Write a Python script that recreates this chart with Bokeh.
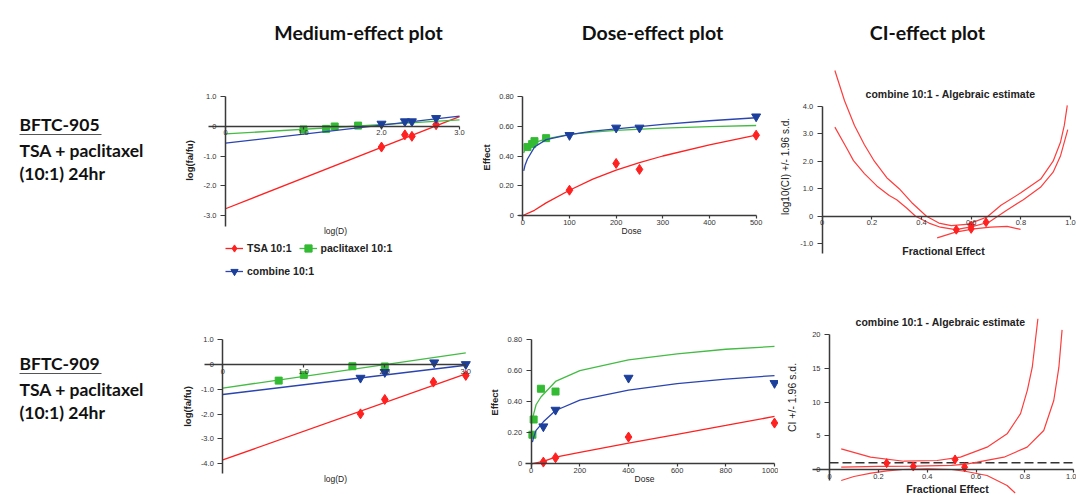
import math
from bokeh.plotting import figure
from bokeh.models import Range1d, FixedTicker, Label, Legend, LegendItem
from bokeh.layouts import column, row
from bokeh.embed import file_html
from bokeh.resources import INLINE

# ---------------- data: BFTC-905 ----------------
me905_tsa_logd = [2.00, 2.30, 2.39, 2.70]
me905_tsa_y = [-0.70, -0.29, -0.34, 0.05]
me905_pac_logd = [1.00, 1.29, 1.40, 1.70]
me905_pac_y = [-0.11, -0.09, -0.01, 0.02]
me905_comb_logd = [2.00, 2.30, 2.39, 2.70]
me905_comb_y = [0.08, 0.16, 0.16, 0.27]
me905_fit_x = [0.0, 3.0]
me905_tsa_fit = [-2.77, 0.32]
me905_pac_fit = [-0.26, 0.21]
me905_comb_fit = [-0.57, 0.34]

de905_tsa_dose = [100, 200, 250, 500]
de905_tsa_eff = [0.17, 0.35, 0.31, 0.54]
de905_pac_dose = [10, 20, 25, 50]
de905_pac_eff = [0.46, 0.48, 0.50, 0.52]
de905_comb_dose = [100, 200, 250, 500]
de905_comb_eff = [0.54, 0.59, 0.59, 0.665]
de905_tsa_curve_dose = [0, 25, 50, 100, 150, 200, 250, 300, 400, 500]
de905_tsa_curve_eff = [0, 0.035, 0.085, 0.17, 0.245, 0.305, 0.355, 0.40, 0.475, 0.54]
de905_pac_curve_dose = [2, 5, 10, 25, 50, 100, 150, 200, 300, 400, 500]
de905_pac_curve_eff = [0.42, 0.45, 0.47, 0.49, 0.515, 0.545, 0.56, 0.572, 0.588, 0.598, 0.605]
de905_comb_curve_dose = [2, 5, 10, 25, 50, 100, 150, 200, 300, 400, 500]
de905_comb_curve_eff = [0.30, 0.34, 0.38, 0.46, 0.51, 0.543, 0.567, 0.583, 0.613, 0.637, 0.657]

ci905_fa = [0.54, 0.60, 0.60, 0.66]
ci905_val = [-0.49, -0.34, -0.46, -0.22]
ci905_up_fa = [0.051, 0.09, 0.13, 0.17, 0.21, 0.26, 0.31, 0.36, 0.42, 0.47, 0.52,
               0.58, 0.62, 0.664, 0.72, 0.80, 0.88, 0.93, 0.96, 0.975, 0.987]
ci905_up_val = [5.30, 4.2, 3.3, 2.6, 2.0, 1.4, 1.0, 0.5, 0.0, -0.25, -0.34,
                -0.30, -0.18, -0.03, 0.4, 0.85, 1.35, 2.0, 2.7, 3.3, 4.03]
ci905_mid_fa = [0.051, 0.10, 0.126, 0.17, 0.22, 0.27, 0.30, 0.34, 0.376, 0.43,
                0.476, 0.537, 0.60, 0.671, 0.74, 0.81, 0.879, 0.93, 0.96, 0.989]
ci905_mid_val = [3.24, 2.45, 2.02, 1.55, 1.1, 0.75, 0.6, 0.3, 0.0, -0.25,
                 -0.40, -0.49, -0.39, -0.22, 0.2, 0.6, 1.05, 1.6, 2.2, 3.15]
ci905_low_fa = [0.463, 0.537, 0.611, 0.678, 0.745, 0.799]
ci905_low_val = [-0.79, -0.58, -0.46, -0.40, -0.37, -0.48]

# ---------------- data: BFTC-909 ----------------
me909_tsa_logd = [1.70, 2.00, 2.60, 3.00]
me909_tsa_y = [-1.99, -1.41, -0.71, -0.44]
me909_pac_logd = [0.69, 1.00, 1.60, 2.00]
me909_pac_y = [-0.65, -0.42, -0.07, -0.08]
me909_comb_logd = [1.70, 2.00, 2.61, 3.00]
me909_comb_y = [-0.54, -0.31, 0.08, 0.01]
me909_fit_x = [0.0, 3.0]
me909_tsa_fit = [-3.85, -0.38]
me909_pac_fit = [-0.95, 0.47]
me909_comb_fit = [-1.21, -0.03]

de909_tsa_dose = [50, 100, 400, 1000]
de909_tsa_eff = [0.011, 0.039, 0.172, 0.262]
de909_pac_dose = [5, 10, 40, 100]
de909_pac_eff = [0.187, 0.285, 0.483, 0.465]
de909_comb_dose = [50, 100, 400, 1000]
de909_comb_eff = [0.24, 0.347, 0.553, 0.519]
de909_tsa_curve_dose = [0, 50, 100, 200, 400, 600, 800, 1000]
de909_tsa_curve_eff = [0, 0.015, 0.043, 0.074, 0.133, 0.19, 0.247, 0.305]
de909_pac_curve_dose = [5, 10, 20, 40, 100, 200, 400, 600, 800, 1000]
de909_pac_curve_eff = [0.27, 0.32, 0.38, 0.43, 0.53, 0.60, 0.669, 0.708, 0.737, 0.755]
de909_comb_curve_dose = [5, 10, 20, 50, 100, 200, 400, 600, 800, 1000]
de909_comb_curve_eff = [0.14, 0.17, 0.215, 0.27, 0.343, 0.41, 0.474, 0.516, 0.545, 0.568]

ci909_fa = [0.234, 0.343, 0.514, 0.553]
ci909_val = [0.94, 0.45, 1.49, 0.34]
ci909_up_fa = [0.048, 0.168, 0.304, 0.44, 0.536, 0.645, 0.727, 0.782, 0.81, 0.83, 0.853]
ci909_up_val = [3.07, 1.83, 1.23, 1.34, 1.83, 3.32, 5.3, 8.3, 11.8, 15.2, 22.4]
ci909_mid_fa = [0.048, 0.2, 0.35, 0.5, 0.56, 0.605, 0.714, 0.809, 0.877, 0.918, 0.939, 0.952]
ci909_mid_val = [0.34, 0.45, 0.5, 0.6, 0.8, 1.09, 1.83, 3.32, 5.8, 10.25, 15.2, 20.75]
ci909_low_fa = [0.048, 0.1, 0.17, 0.236, 0.3, 0.4, 0.5, 0.56, 0.645, 0.727, 0.76]
ci909_low_val = [-1.63, -1.04, -0.55, -0.2, 0.0, 0.1, 0.0, -0.3, -0.89, -2.38, -3.5]
ci909_ref_fa = [0.0, 1.0]
ci909_ref_val = [1.0, 1.0]

# ---------------- tick labels ----------------
me905_yticks = [-3, -2, -1, 0, 1]
me905_ylabels = ["-3.0", "-2.0", "-1.0", "0", "1.0"]
me909_yticks = [-4, -3, -2, -1, 0, 1]
me909_ylabels = ["-4.0", "-3.0", "-2.0", "-1.0", "0", "1.0"]
me_xticks = [0, 1, 2, 3]
me_xlabels = ["0", "1.0", "2.0", "3.0"]
de_yticks = [0, 0.2, 0.4, 0.6, 0.8]
de_ylabels = ["0", "0.20", "0.40", "0.60", "0.80"]
de905_xticks = [0, 100, 200, 300, 400, 500]
de905_xlabels = ["0", "100", "200", "300", "400", "500"]
de909_xticks = [0, 200, 400, 600, 800, 1000]
de909_xlabels = ["0", "200", "400", "600", "800", "1000"]
ci905_yticks = [-1, 0, 1, 2, 3, 4]
ci905_ylabels = ["-1.0", "0", "1.0", "2.0", "3.0", "4.0"]
ci909_yticks = [0, 5, 10, 15, 20]
ci909_ylabels = ["0", "5", "10", "15", "20"]
ci_xticks = [0, 0.2, 0.4, 0.6, 0.8, 1.0]
ci_xlabels = ["0", "0.2", "0.4", "0.6", "0.8", "1.0"]

# ---------------- styles ----------------
FONT = "Liberation Sans"
HEAD_FONT = "Lato"
RED = "#ff2020"
CI_RED = "#ff3c3c"
GREEN = "#33bb33"
GREEN_LINE = "#44bb44"
BLUE = "#1c3f9c"
BLUE_LINE = "#2a44b0"
AXIS = "#3a3a3a"
TXT = "#333333"

# page layout (pixels): columns and rows
COL_X = [0, 176, 480, 778, 1076]
ROW_Y = [0, 305, 496]


class Panel:
    """A figure whose frame fills its box; cx/cy = page pixel of value 0, sx/sy = pixels per unit."""

    def __init__(self, col, rw, cx, sx, cy, sy):
        self.fx0, self.fx1 = COL_X[col], COL_X[col + 1]
        self.fy0, self.fy1 = ROW_Y[rw], ROW_Y[rw + 1]
        self.cx, self.sx, self.cy, self.sy = cx, sx, cy, sy
        self.p = figure(width=self.fx1 - self.fx0, height=self.fy1 - self.fy0,
                        x_range=Range1d(self.dx(self.fx0), self.dx(self.fx1)),
                        y_range=Range1d(self.dy(self.fy1), self.dy(self.fy0)),
                        output_backend="svg", toolbar_location=None, title=None,
                        min_border_left=0, min_border_right=0,
                        min_border_top=0, min_border_bottom=0)
        p = self.p
        p.outline_line_color = None
        p.background_fill_color = "white"
        p.border_fill_color = "white"
        p.grid.visible = False
        p.xaxis.fixed_location = 0
        p.yaxis.fixed_location = 0

    def dx(self, px):
        return (px - self.cx) / self.sx

    def dy(self, py):
        return (self.cy - py) / self.sy

    def text(self, px, py, txt, size, style="normal", font=FONT, align="center",
             angle=0.0, color="#222222"):
        self.p.add_layout(Label(x=self.dx(px), y=self.dy(py), text=txt, angle=angle,
                                text_font=font, text_font_size=size, text_font_style=style,
                                text_align=align, text_baseline="middle", text_color=color))

    def axes(self, xticks, xlabels, xbounds, yticks, ylabels, ybounds):
        for ax, ticks, labels, bounds, tick_out, standoff in (
                (self.p.xaxis[0], xticks, xlabels, xbounds, 3, 1),
                (self.p.yaxis[0], yticks, ylabels, ybounds, 5, 4)):
            ax.ticker = FixedTicker(ticks=ticks, minor_ticks=[])
            ax.major_label_overrides = {t: l for t, l in zip(ticks, labels)}
            ax.bounds = bounds
            ax.axis_line_color = AXIS
            ax.axis_line_width = 1.5
            ax.major_tick_line_color = AXIS
            ax.major_tick_line_width = 1.2
            ax.major_tick_out = tick_out
            ax.major_tick_in = 0
            ax.minor_tick_line_color = None
            ax.major_label_standoff = standoff
            ax.major_label_text_font = FONT
            ax.major_label_text_font_size = "7.5px"
            ax.major_label_text_color = TXT

    def series(self, xs, ys, cxs, cys, color, line_color, marker, size):
        r_line = self.p.line(cxs, cys, line_color=line_color, line_width=1.3)
        r_pts = self.p.scatter(xs, ys, marker=marker, size=size, fill_color=color, line_color=color)
        return r_line, r_pts


def side_label(rw, name, mid):
    y0, y1 = ROW_Y[rw], ROW_Y[rw + 1]
    f = figure(width=COL_X[1] - COL_X[0], height=y1 - y0, x_range=Range1d(COL_X[0], COL_X[1]),
               y_range=Range1d(y1, y0), x_axis_type=None, y_axis_type=None,
               output_backend="svg", toolbar_location=None, title=None,
               min_border_left=0, min_border_right=0, min_border_top=0, min_border_bottom=0)
    f.outline_line_color = None
    for txt, ym in ((name, mid), ("TSA + paclitaxel", mid + 25.5), ("(10:1) 24hr", mid + 49)):
        f.add_layout(Label(x=19, y=ym, text=txt, text_align="left", text_baseline="middle",
                           text_font=HEAD_FONT, text_font_size="17.5px", text_font_style="bold",
                           text_color="#111111"))
    f.segment(x0=[19], y0=[mid + 10], x1=[101], y1=[mid + 10], line_color="#555555", line_width=1)
    return f


lab1 = side_label(0, "BFTC-905", 124)
lab2 = side_label(1, "BFTC-909", 363)

# ================= BFTC-905 =================
P1 = Panel(1, 0, 225.0, 78.0, 125.7, 29.8)
P1.axes(me_xticks, me_xlabels, (-0.22, 3.0), me905_yticks, me905_ylabels, (-3.36, 1.0))
a1 = P1.series(me905_tsa_logd, me905_tsa_y, me905_fit_x, me905_tsa_fit, RED, RED, "diamond", 10)
b1 = P1.series(me905_pac_logd, me905_pac_y, me905_fit_x, me905_pac_fit, GREEN, GREEN_LINE, "square", 7)
c1 = P1.series(me905_comb_logd, me905_comb_y, me905_fit_x, me905_comb_fit, BLUE, BLUE_LINE, "inverted_triangle", 9)
P1.text(358, 32, "Medium-effect plot", "19.5px", "bold", HEAD_FONT, color="#111111")
P1.text(335, 230, "log(D)", "8.5px")
P1.text(189, 160, "log(fa/fu)", "9.5px", "bold", angle=math.pi / 2)
leg_common = dict(orientation="horizontal", padding=0, margin=0, spacing=7, label_standoff=4,
                  glyph_width=18, glyph_height=20, label_height=20,
                  border_line_color=None, background_fill_color=None,
                  label_text_font=FONT, label_text_font_size="10.5px",
                  label_text_font_style="bold", label_text_color="#222222")
leg_a = Legend(items=[LegendItem(label="TSA 10:1", renderers=list(a1)),
                      LegendItem(label="paclitaxel 10:1", renderers=list(b1))],
               location=(225 - P1.fx0, P1.fy1 - 258), **leg_common)
leg_b = Legend(items=[LegendItem(label="combine 10:1", renderers=list(c1))],
               location=(225 - P1.fx0, P1.fy1 - 281), **leg_common)
P1.p.add_layout(leg_a)
P1.p.add_layout(leg_b)

D1 = Panel(2, 0, 522.3, 0.4667, 215.0, 148.75)
D1.axes(de905_xticks, de905_xlabels, (-8.5, 500), de_yticks, de_ylabels, (-0.034, 0.8))
D1.series(de905_tsa_dose, de905_tsa_eff, de905_tsa_curve_dose, de905_tsa_curve_eff, RED, RED, "diamond", 10)
D1.series(de905_pac_dose, de905_pac_eff, de905_pac_curve_dose, de905_pac_curve_eff, GREEN, GREEN_LINE, "square", 7)
D1.series(de905_comb_dose, de905_comb_eff, de905_comb_curve_dose, de905_comb_curve_eff, BLUE, BLUE_LINE, "inverted_triangle", 9)
D1.text(652, 32, "Dose-effect plot", "19.5px", "bold", HEAD_FONT, color="#111111")
D1.text(631, 230, "Dose", "8.5px")
D1.text(486, 157, "Effect", "9.5px", "bold", angle=math.pi / 2)

K1 = Panel(3, 0, 821.7, 248.3, 215.7, 27.5)
K1.axes(ci_xticks, ci_xlabels, (0, 1.0), ci905_yticks, ci905_ylabels, (-1.36, 4.0))
for xs, ys in ((ci905_up_fa, ci905_up_val), (ci905_mid_fa, ci905_mid_val), (ci905_low_fa, ci905_low_val)):
    K1.p.line(xs, ys, line_color=CI_RED, line_width=1.2)
K1.p.scatter(ci905_fa, ci905_val, marker="diamond", size=9, color=RED)
K1.text(927, 32, "CI-effect plot", "19.5px", "bold", HEAD_FONT, color="#111111")
K1.text(950, 93, "combine 10:1 - Algebraic estimate", "10.5px", "bold")
K1.text(943, 250, "Fractional Effect", "10.5px", "bold")
K1.text(785, 166, "log10(CI) +/- 1.96 s.d.", "10px", angle=math.pi / 2)

# ================= BFTC-909 =================
P2 = Panel(1, 1, 222.3, 81.0, 364.0, 24.8)
P2.axes(me_xticks, me_xlabels, (-0.23, 3.0), me909_yticks, me909_ylabels, (-4.4, 1.0))
P2.series(me909_tsa_logd, me909_tsa_y, me909_fit_x, me909_tsa_fit, RED, RED, "diamond", 10)
P2.series(me909_pac_logd, me909_pac_y, me909_fit_x, me909_pac_fit, GREEN, GREEN_LINE, "square", 7)
P2.series(me909_comb_logd, me909_comb_y, me909_fit_x, me909_comb_fit, BLUE, BLUE_LINE, "inverted_triangle", 9)
P2.text(335, 478, "log(D)", "8.5px")
P2.text(187, 406, "log(fa/fu)", "9.5px", "bold", angle=math.pi / 2)

D2 = Panel(2, 1, 530.7, 0.2433, 463.3, 155.4)
D2.axes(de909_xticks, de909_xlabels, (-23, 1000), de_yticks, de_ylabels, (-0.03, 0.8))
D2.series(de909_tsa_dose, de909_tsa_eff, de909_tsa_curve_dose, de909_tsa_curve_eff, RED, RED, "diamond", 10)
D2.series(de909_pac_dose, de909_pac_eff, de909_pac_curve_dose, de909_pac_curve_eff, GREEN, GREEN_LINE, "square", 7)
D2.series(de909_comb_dose, de909_comb_eff, de909_comb_curve_dose, de909_comb_curve_eff, BLUE, BLUE_LINE, "inverted_triangle", 9)
D2.text(644, 478, "Dose", "8.5px")
D2.text(494, 402, "Effect", "9.5px", "bold", angle=math.pi / 2)

K2 = Panel(3, 1, 829.0, 244.3, 469.0, 6.73)
K2.axes(ci_xticks, ci_xlabels, (-0.07, 1.0), ci909_yticks, ci909_ylabels, (-1.6, 20))
K2.p.line(ci909_ref_fa, ci909_ref_val, line_color="#333333", line_width=1.5, line_dash="9 4")
for xs, ys in ((ci909_up_fa, ci909_up_val), (ci909_mid_fa, ci909_mid_val), (ci909_low_fa, ci909_low_val)):
    K2.p.line(xs, ys, line_color=CI_RED, line_width=1.2)
K2.p.scatter(ci909_fa, ci909_val, marker="diamond", size=9, color=RED)
K2.text(940, 321, "combine 10:1 - Algebraic estimate", "10.5px", "bold")
K2.text(947, 488, "Fractional Effect", "10.5px", "bold")
K2.text(791, 397, "CI +/- 1.96 s.d.", "10.5px", angle=math.pi / 2)

layout = column(row(lab1, P1.p, D1.p, K1.p), row(lab2, P2.p, D2.p, K2.p))
open("out.html", "w").write(file_html(layout, INLINE))
